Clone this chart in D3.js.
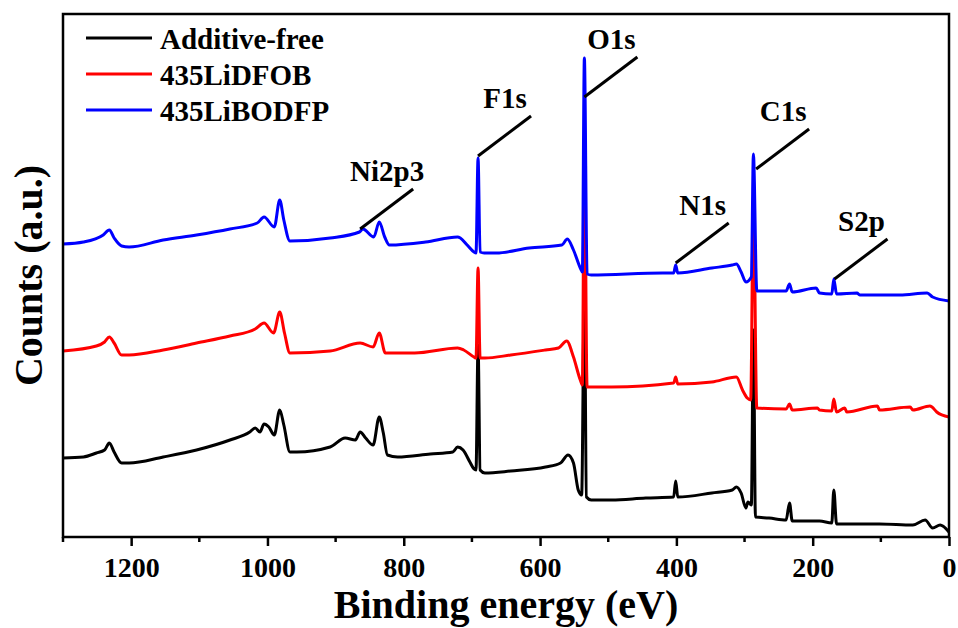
<!DOCTYPE html>
<html>
<head>
<meta charset="utf-8">
<title>XPS survey</title>
<script src="https://d3js.org/d3.v7.min.js"></script>
<style>
  body { margin: 0; background: #fff; }
  text { font-family: "Liberation Serif", "Times New Roman", serif; font-weight: bold; }
</style>
</head>
<body>
<script>
// series: [binding energy (eV), counts (a.u.)]
const additiveFree = [
  [1300,79],[1270,80],[1251,84],[1239,87],[1232,94],[1225,85],[1214,74],[1203,74],
  [1153,80],[1104,87],[1055,97],[1026,105],[1018,109],[1011,105],[1005,113],[998,110],
  [990,102],[982,127],[976,112],[967,85],[957,85],[908,90],[886,99],[871,97],[864,105],
  [856,99],[845,92],[836,120],[830,104],[824,82],[809,80],[761,83],[728,85],[721,90],
  [713,87],[703,75],[697,68],[694,67],[691,192],[688,67],[681,64],[643,66],[592,70],
  [570,74],[559,82],[551,74],[544,47],[539,42],[535,247],[532,40],[525,37],[495,37],
  [445,39],[404,40],[401,56],[398,40],[348,44],[318,47],[312,50],[305,44],[298,29],
  [295,35],[290,32],[287,207],[284,20],[264,19],[239,17],[234,34],[230,16],[190,16],
  [172,14],[169,47],[165,13],[102,13],[53,12],[35,17],[24,9],[13,12],[0,5]
];
const liDFOB = [
  [1300,186],[1251,191],[1239,195],[1232,200],[1225,194],[1214,182],[1203,182],
  [1153,187],[1104,194],[1055,201],[1018,208],[1005,214],[991,204],[982,225],[975,204],
  [967,184],[908,186],[864,194],[845,190],[836,204],[827,184],[784,184],[721,189],
  [712,187],[697,180],[694,179],[691,269],[688,179],[681,179],[643,182],[592,187],
  [573,189],[561,196],[551,180],[541,157],[538,152],[535,397],[531,150],[495,150],
  [404,154],[401,160],[398,153],[348,155],[312,160],[303,147],[296,139],[291,137],
  [287,337],[282,129],[239,128],[234,133],[230,127],[193,129],[190,127],[172,126],
  [169,138],[165,125],[153,129],[150,125],[105,131],[102,127],[57,130],[53,127],
  [28,131],[25,130],[18,125],[0,120]
];
const liBODFP = [
  [1300,293],[1270,295],[1241,302],[1232,307],[1225,299],[1214,291],[1203,290],
  [1153,297],[1104,302],[1055,308],[1015,314],[1005,320],[990,310],[982,337],[976,317],
  [967,296],[908,299],[865,305],[860,308],[844,300],[836,315],[828,300],[821,292],
  [768,295],[721,300],[717,299],[707,292],[697,285],[694,284],[691,379],[688,285],
  [682,284],[664,284],[616,289],[568,292],[560,298],[551,287],[541,269],[538,265],
  [535,479],[531,263],[525,262],[420,264],[404,264],[401,272],[398,264],[348,269],
  [318,272],[312,273],[305,265],[298,255],[290,260],[287,383],[282,246],[239,246],
  [234,253],[230,245],[195,249],[190,244],[172,243],[169,258],[165,243],[135,244],
  [131,242],[72,242],[32,244],[24,240],[0,236]
];

const seriesNames = ["Additive-free", "435LiDFOB", "435LiBODFP"];
const seriesColors = ["#000000", "#ff0000", "#0000ff"];
const seriesData = [additiveFree, liDFOB, liBODFP];

const majorTicks = [1200, 1000, 800, 600, 400, 200, 0];
const minorTicks = [1300, 1100, 900, 700, 500, 300, 100];

const peakLabels = ["Ni2p3", "F1s", "O1s", "N1s", "C1s", "S2p"];
const peakEnergies = [864, 691, 535, 401, 283, 168];
const peakAnchors = [308, 381, 440, 274, 368, 258];

const W = 958, H = 628;
const margin = { top: 14, right: 9, bottom: 91, left: 63 };

const svg = d3.select("body").append("svg")
  .attr("width", W)
  .attr("height", H);

const x = d3.scaleLinear().domain([1300, 0]).range([margin.left, W - margin.right]);
const y = d3.scaleLinear().domain([0, 523]).range([H - margin.bottom, margin.top]);

svg.append("clipPath").attr("id", "plot-clip")
  .append("rect")
  .attr("x", margin.left).attr("y", margin.top)
  .attr("width", W - margin.left - margin.right)
  .attr("height", H - margin.top - margin.bottom);

// smooth but no overshoot; points go left->right on screen
const line = d3.line()
  .x(d => x(d[0]))
  .y(d => y(d[1]))
  .curve(d3.curveMonotoneX);

const curves = svg.append("g").attr("clip-path", "url(#plot-clip)");
seriesData.forEach((s, i) => {
  curves.append("path")
    .datum(s.slice().sort((a, b) => b[0] - a[0]))
    .attr("d", line)
    .attr("fill", "none")
    .attr("stroke", seriesColors[i])
    .attr("stroke-width", 3)
    .attr("stroke-linejoin", "round");
});

// frame
svg.append("rect")
  .attr("x", margin.left).attr("y", margin.top)
  .attr("width", W - margin.left - margin.right)
  .attr("height", H - margin.top - margin.bottom)
  .attr("fill", "none")
  .attr("stroke", "#000")
  .attr("stroke-width", 2.5);

// x axis
const xAxis = svg.append("g")
  .attr("transform", `translate(0,${H - margin.bottom})`)
  .call(d3.axisBottom(x).tickValues(majorTicks).tickSize(9).tickFormat(d3.format("d")));
xAxis.select(".domain").remove();
xAxis.selectAll(".tick line").attr("stroke-width", 2.5);
xAxis.selectAll(".tick text")
  .attr("dy", null)
  .attr("y", 40)
  .attr("fill", "#000")
  .style("font-size", "28px")
  .style("font-family", "'Liberation Serif', serif");

svg.append("g")
  .attr("transform", `translate(0,${H - margin.bottom})`)
  .selectAll("line")
  .data(minorTicks)
  .join("line")
  .attr("x1", d => x(d)).attr("x2", d => x(d))
  .attr("y1", 0).attr("y2", 5)
  .attr("stroke", "#000")
  .attr("stroke-width", 2.5);

// axis titles
svg.append("text")
  .attr("x", (margin.left + W - margin.right) / 2)
  .attr("y", 618)
  .attr("text-anchor", "middle")
  .style("font-size", "40px")
  .text("Binding energy (eV)");

svg.append("text")
  .attr("transform", `translate(42,${(margin.top + H - margin.bottom) / 2}) rotate(-90)`)
  .attr("text-anchor", "middle")
  .style("font-size", "40px")
  .text("Counts (a.u.)");

// peak annotations
const notes = svg.append("g");
peakLabels.forEach((lab, i) => {
  const ax = x(peakEnergies[i]);
  const ay = y(peakAnchors[i]);
  notes.append("line")
    .attr("x1", ax).attr("y1", ay)
    .attr("x2", ax + 53).attr("y2", ay - 40)
    .attr("stroke", "#000")
    .attr("stroke-width", 3);
  notes.append("text")
    .attr("x", ax + 27)
    .attr("y", ay - 48)
    .attr("text-anchor", "middle")
    .style("font-size", "29px")
    .text(lab);
});

// legend
const legend = svg.append("g");
seriesNames.forEach((name, i) => {
  const ly = 38 + i * 36;
  legend.append("line")
    .attr("x1", 86).attr("x2", 152)
    .attr("y1", ly).attr("y2", ly)
    .attr("stroke", seriesColors[i])
    .attr("stroke-width", 3);
  legend.append("text")
    .attr("x", 160)
    .attr("y", ly + 11)
    .style("font-size", "29px")
    .text(name);
});
</script>
</body>
</html>
